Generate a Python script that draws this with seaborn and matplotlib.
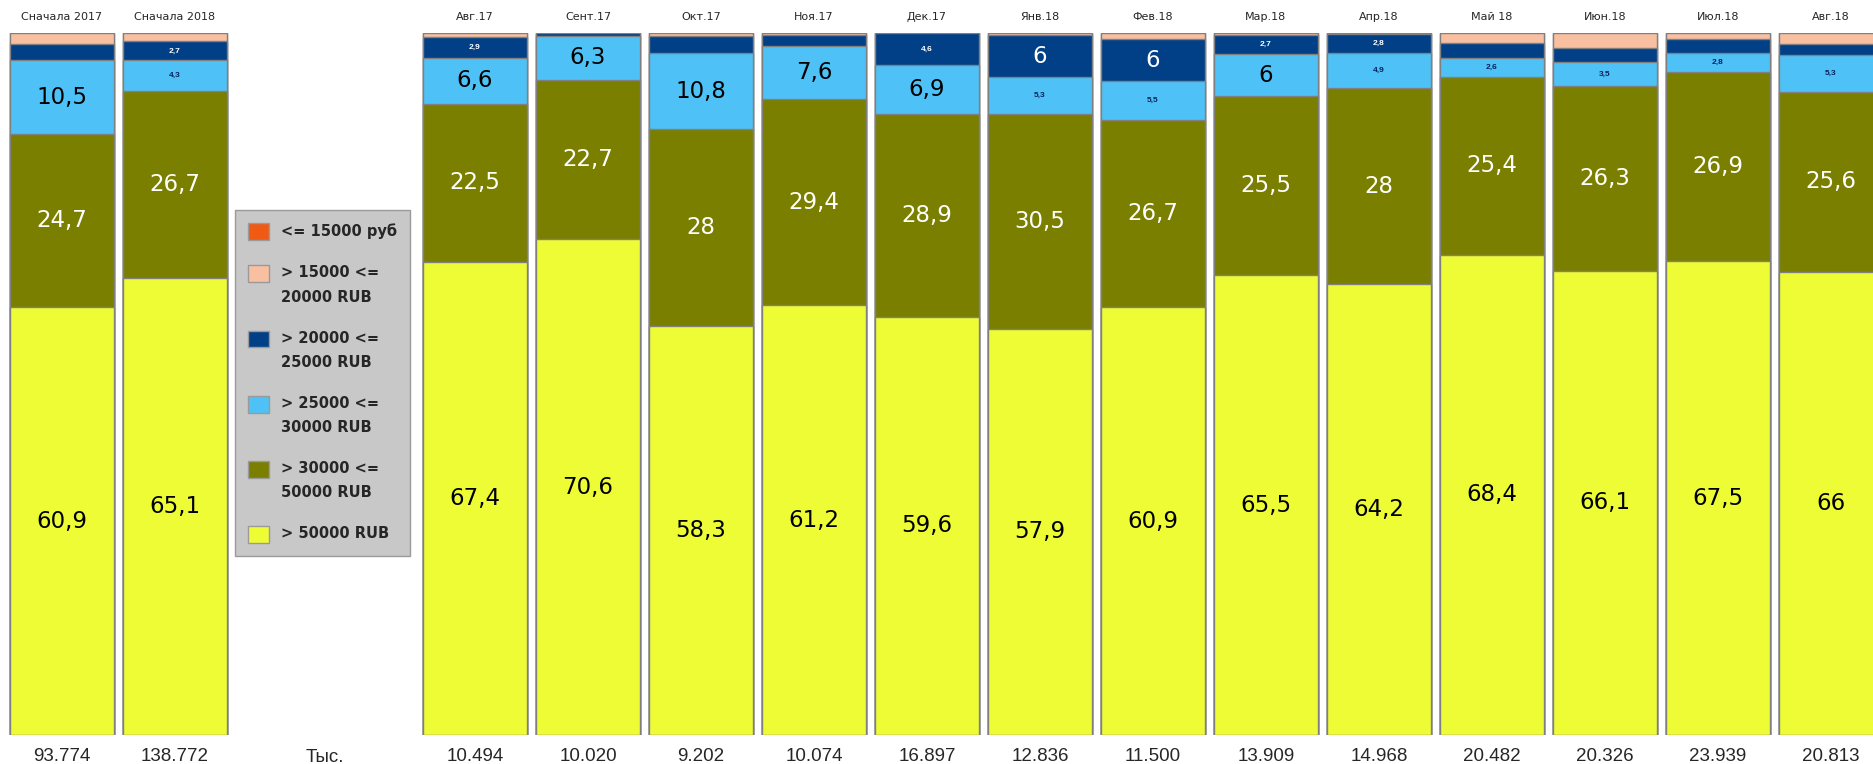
import pandas as pd
import matplotlib
matplotlib.use('Agg')
import matplotlib.pyplot as plt
from matplotlib.patches import Patch
import seaborn as sns

sns.set_style('white')
plt.rcParams['font.family'] = ['Liberation Sans', 'DejaVu Sans']

# Data: shares in % by salary band (bottom -> top of stack)
band_names = ['> 50000 RUB', '> 30000 <=\n50000 RUB', '> 25000 <=\n30000 RUB',
              '> 20000 <=\n25000 RUB', '> 15000 <=\n20000 RUB', '<= 15000 руб']
band_colors = ['#eefc36', '#7b7f00', '#4ec2f7', '#013f86', '#f8bfa0', '#f05a14']
label_colors = ['black', 'white', 'black', 'white', 'black', 'black']
small_colors = ['black', 'white', '#0b1f5c', 'white', 'black', 'black']

start_cats = ['Сначала 2017', 'Сначала 2018']
start_totals = ['93.774', '138.772']
start_yellow = [60.9, 65.1]
start_olive = [24.7, 26.7]
start_lblue = [10.5, 4.3]
start_dblue = [2.3, 2.7]
start_pink = [1.6, 1.2]
start_orange = [0, 0]

month_cats = ['Авг.17', 'Сент.17', 'Окт.17', 'Ноя.17', 'Дек.17', 'Янв.18', 'Фев.18',
              'Мар.18', 'Апр.18', 'Май 18', 'Июн.18', 'Июл.18', 'Авг.18']
month_totals = ['10.494', '10.020', '9.202', '10.074', '16.897', '12.836', '11.500',
                '13.909', '14.968', '20.482', '20.326', '23.939', '20.813']
month_yellow = [67.4, 70.6, 58.3, 61.2, 59.6, 57.9, 60.9, 65.5, 64.2, 68.4, 66.1, 67.5, 66]
month_olive = [22.5, 22.7, 28, 29.4, 28.9, 30.5, 26.7, 25.5, 28, 25.4, 26.3, 26.9, 25.6]
month_lblue = [6.6, 6.3, 10.8, 7.6, 6.9, 5.3, 5.5, 6, 4.9, 2.6, 3.5, 2.8, 5.3]
month_dblue = [2.9, 0.4, 2.5, 1.5, 4.6, 6, 6, 2.7, 2.8, 2.2, 2.0, 1.9, 1.5]
month_pink = [0.6, 0, 0.4, 0.3, 0, 0.3, 0.9, 0.3, 0.1, 1.4, 2.1, 0.9, 1.6]
month_orange = [0] * 13

W, H = 1874, 764
fig = plt.figure(figsize=(W / 100, H / 100), dpi=100)


def fmt(v):
    return str(int(v)) if float(v).is_integer() else f'{v:.1f}'.replace('.', ',')


def draw_group(ax, cats, bands, totals):
    df = pd.DataFrame(dict(zip(band_names, bands)), index=cats)
    cum = df.cumsum(axis=1)
    # draw cumulative bars from the top band down so lower bands overlay
    for name, color in reversed(list(zip(band_names, band_colors))):
        sns.barplot(x=cats, y=cum[name].values, color=color, width=0.92, saturation=1,
                    edgecolor='#808080', linewidth=1.0, errorbar=None, ax=ax)
    bottoms = cum - df
    for i, cat in enumerate(cats):
        for j, name in enumerate(band_names):
            v = df.loc[cat, name]
            if v >= 6:
                ax.text(i, bottoms.loc[cat, name] + v / 2, fmt(v), ha='center', va='center',
                        fontsize=16.5, family='DejaVu Sans', color=label_colors[j])
            elif v >= 2.6:
                ax.text(i, bottoms.loc[cat, name] + v / 2, fmt(v), ha='center', va='center',
                        fontsize=6, fontweight='bold', color=small_colors[j])
        ax.text(i, -3.1, totals[i], ha='center', va='center', fontsize=13.5,
                family=['Liberation Sans Narrow', 'Liberation Sans'], clip_on=False)
    ax.set_ylim(0, 100)
    ax.set_xlim(-0.5, len(cats) - 0.5)
    ax.set_yticks([])
    ax.set_ylabel('')
    ax.xaxis.tick_top()
    ax.tick_params(axis='x', length=0, pad=8, labelsize=8)
    for t in ax.get_xticklabels():
        t.set_family('DejaVu Sans')
    sns.despine(ax=ax, left=True, bottom=True)
    ax.spines['top'].set_visible(False)


ax1 = fig.add_axes([5.5 / W, 29 / H, 226 / W, 702 / H])
draw_group(ax1, start_cats,
           [start_yellow, start_olive, start_lblue, start_dblue, start_pink, start_orange],
           start_totals)

ax2 = fig.add_axes([418.5 / W, 29 / H, 1469 / W, 702 / H])
draw_group(ax2, month_cats,
           [month_yellow, month_olive, month_lblue, month_dblue, month_pink, month_orange],
           month_totals)

fig.text(325 / W, 1 - 757 / H, 'Тыс.', ha='center', va='center', fontsize=13.5,
         family=['Liberation Sans Narrow', 'Liberation Sans'])

handles = [Patch(facecolor=c, edgecolor='#9a9a9a') for c in band_colors][::-1]
leg = fig.legend(handles, band_names[::-1], loc='upper left',
                 bbox_to_anchor=(235 / W, 1 - 210 / H), borderaxespad=0,
                 handlelength=1.4, handleheight=1.4, handletextpad=0.85,
                 labelspacing=1.75, borderpad=0.9, fancybox=False, framealpha=1,
                 facecolor='#c8c8c8', edgecolor='#9a9a9a',
                 prop={'family': 'DejaVu Sans', 'weight': 'bold', 'size': 10.5})
for t in leg.get_texts():
    t.set_linespacing(1.8)
for col in leg._legend_handle_box.get_children():
    for item in col.get_children():
        item.align = 'top'

fig.savefig('out.png', dpi=100)
